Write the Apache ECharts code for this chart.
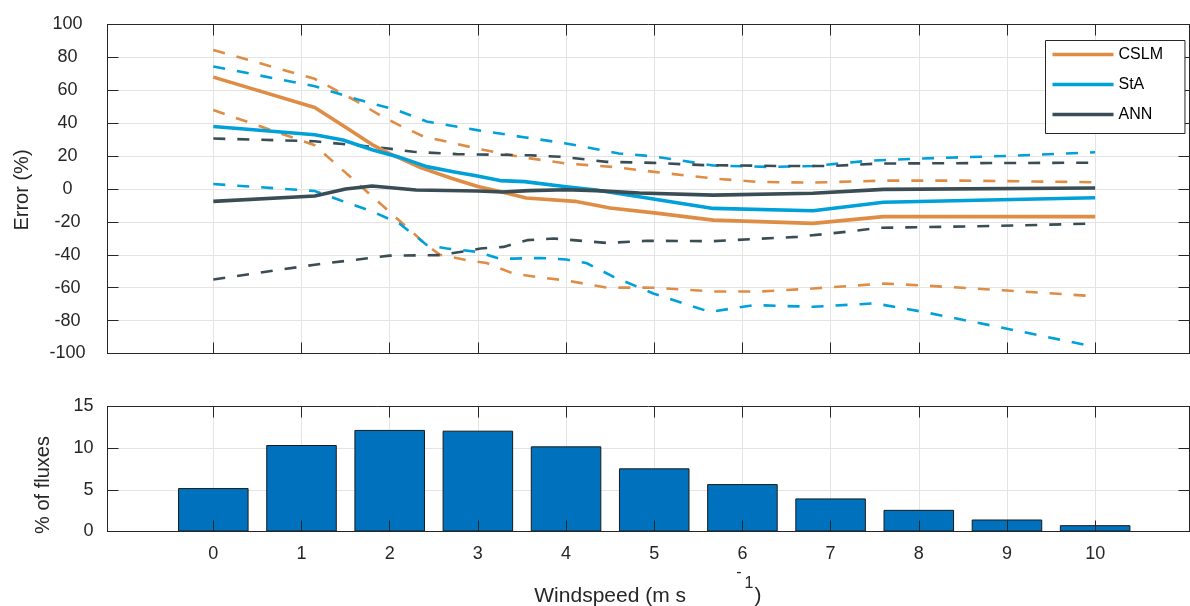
<!DOCTYPE html>
<html><head><meta charset="utf-8">
<script src="https://cdn.jsdelivr.net/npm/echarts@6/dist/echarts.min.js"></script>
<style>html,body{margin:0;padding:0;background:#fff}#c{width:1190px;height:606px}</style>
</head><body><div id="c"></div>
<script>
// ---- data ----
const windTicks = [0, 1, 2, 3, 4, 5, 6, 7, 8, 9, 10];
const fluxPct = [5.21, 10.38, 12.19, 12.1, 10.22, 7.58, 5.69, 3.97, 2.6, 1.44, 0.76];
const methodNames = ['CSLM', 'StA', 'ANN'];

const cslmMean = [[0,68],[1.15,49.5],[1.5,37.5],[1.8,27],[2.0,21.5],[2.35,13],[2.7,6.5],[3.0,1.5],[3.25,-1.5],[3.55,-5.5],[4.1,-7.5],[4.5,-11.5],[5.0,-14.5],[5.67,-18.9],[6.8,-20.9],[7.6,-16.8],[10,-16.8]];
const cslmUpper = [[0,84.5],[1.15,67],[1.62,53.5],[1.9,44.5],[2.1,39],[2.38,32],[2.99,24.6],[3.48,19.5],[4.0,15.5],[4.54,13.4],[5.0,10.4],[5.67,6.4],[6.17,4.3],[6.8,3.9],[7.6,5.1],[8.5,5.1],[10,4.1]];
const cslmLower = [[0,48],[1.15,26.6],[2.42,-34],[2.57,-40],[2.88,-43.3],[3.1,-45],[3.4,-51.4],[3.71,-53.8],[4.0,-55.6],[4.46,-59.9],[5.0,-60],[5.67,-62.3],[6.2,-62.3],[6.8,-60.5],[7.6,-57.5],[8.0,-58.5],[9.0,-61.7],[10,-65.2]];
const staMean = [[0,38],[1.15,33],[1.47,29.8],[1.81,23.7],[2.1,19.5],[2.42,13.6],[2.72,10.5],[2.98,8.1],[3.25,5.1],[3.53,4.5],[4.0,1.4],[4.34,-0.6],[4.83,-4.7],[5.67,-11.8],[6.8,-13.2],[7.6,-8.1],[10,-5.3]];
const staUpper = [[0,74.5],[1.15,62.5],[1.63,54.5],[2.08,48],[2.42,41],[2.99,35.8],[3.52,31.5],[4.0,27.7],[4.6,21.6],[5.0,19.8],[5.67,14.3],[6.3,13.4],[6.8,14],[7.44,17.2],[8.0,18.5],[9.0,20.1],[10,22.3]];
const staLower = [[0,3],[1.15,-1.2],[1.43,-6.7],[1.81,-13.8],[2.11,-21],[2.42,-34],[2.65,-36.2],[2.99,-38.2],[3.25,-42.5],[3.4,-42.3],[3.71,-41.9],[4.0,-42.9],[4.23,-45],[4.54,-53.4],[4.99,-63.5],[5.63,-74.7],[6.13,-70.6],[6.8,-71.6],[7.5,-69.5],[8.05,-74.7],[8.9,-83.8],[10,-96]];
const annMean = [[0,-7.5],[1.15,-4.3],[1.5,0],[1.8,1.8],[2.3,-0.6],[3.0,-1.2],[3.28,-1.8],[3.58,-1],[4.0,-0.5],[4.34,-1],[4.83,-2.4],[5.67,-3.7],[6.8,-2.6],[7.6,-0.2],[10,0.6]];
const annUpper = [[0,30.7],[1.15,29],[1.96,24.8],[2.27,22.6],[2.76,21.2],[3.59,20.5],[3.97,19.5],[4.46,16.5],[4.99,15.9],[5.56,14.5],[6.43,14],[7.0,14],[7.56,15.5],[10,16]];
const annLower = [[0,-55],[1.15,-46],[2.0,-40.5],[2.57,-40.2],[2.88,-37.6],[3.03,-36.2],[3.29,-35.2],[3.56,-31.1],[3.86,-30.1],[4.46,-32.8],[4.92,-31.5],[5.67,-31.7],[6.62,-29.1],[7.18,-26],[7.56,-23.6],[8.84,-22.5],[10,-21]];

// ---- style ----
const FONT = '"Liberation Sans", Arial, Helvetica, sans-serif';
const C_ORANGE = '#df8c45', C_BLUE = '#00a0d9', C_DARK = '#3a4d55';
const AX = '#262626', GRID = '#e4e4e4', TXT = '#262626';
const X_MIN = -1.2, X_MAX = 11.07;

function xAx(gridIndex, position, opts) {
  return Object.assign({
    type: 'value', gridIndex, position, min: X_MIN, max: X_MAX,
    axisLine: { show: true, onZero: false, lineStyle: { color: AX, width: 1 } },
    axisTick: { show: true, inside: true, length: 11, customValues: windTicks, lineStyle: { color: AX, width: 1 } },
    axisLabel: { show: false, customValues: windTicks },
    splitLine: { show: false, lineStyle: { color: GRID, width: 1 } }
  }, opts);
}
function yAx(gridIndex, position, min, max, interval, opts) {
  return Object.assign({
    type: 'value', gridIndex, position, min, max, interval,
    axisLine: { show: true, onZero: false, lineStyle: { color: AX, width: 1 } },
    axisTick: { show: true, inside: true, length: 11, lineStyle: { color: AX, width: 1 } },
    axisLabel: { show: false },
    splitLine: { show: false, lineStyle: { color: GRID, width: 1 } }
  }, opts);
}

function lineSeries(name, data, color, dashed, z) {
  return {
    type: 'line', name, data, xAxisIndex: 0, yAxisIndex: 0,
    showSymbol: false, symbol: 'none', smooth: false, z,
    itemStyle: { color },
    lineStyle: { color, width: dashed ? 2.6 : 3.6, type: dashed ? [12, 12] : 'solid', cap: 'butt', join: 'round' },
    emphasis: { disabled: true }, animation: false
  };
}

const series = [
  lineSeries('CSLM upper', cslmUpper, C_ORANGE, true, 3),
  lineSeries('CSLM lower', cslmLower, C_ORANGE, true, 3),
  lineSeries('StA upper', staUpper, C_BLUE, true, 3),
  lineSeries('StA lower', staLower, C_BLUE, true, 3),
  lineSeries('ANN upper', annUpper, C_DARK, true, 3),
  lineSeries('ANN lower', annLower, C_DARK, true, 3),
  lineSeries(methodNames[0], cslmMean, C_ORANGE, false, 4),
  lineSeries(methodNames[1], staMean, C_BLUE, false, 4),
  lineSeries(methodNames[2], annMean, C_DARK, false, 4),
  {
    type: 'bar', name: 'fluxes', xAxisIndex: 2, yAxisIndex: 2,
    data: windTicks.map((w, i) => [w, fluxPct[i]]),
    barWidth: '80%', z: 2,
    itemStyle: { color: '#0072bd', borderColor: '#1a1a1a', borderWidth: 1 },
    emphasis: { disabled: true }, animation: false
  }
];

const option = {
  animation: false,
  backgroundColor: '#fff',
  textStyle: { fontFamily: FONT },
  grid: [
    { left: 107.5, top: 24.5, width: 1082, height: 329, containLabel: false },
    { left: 107.5, top: 406.5, width: 1082, height: 125, containLabel: false }
  ],
  xAxis: [
    xAx(0, 'bottom', { splitLine: { show: true, lineStyle: { color: GRID, width: 1 } } }),
    xAx(0, 'top', {}),
    xAx(1, 'bottom', { z: 10, axisLabel: { show: true, customValues: windTicks, margin: 14, fontSize: 18, color: TXT, fontFamily: FONT } }),
    xAx(1, 'top', { splitLine: { show: true, lineStyle: { color: GRID, width: 1 } } })
  ],
  yAxis: [
    yAx(0, 'left', -100, 100, 20, {
      axisLabel: { show: true, fontSize: 18, color: TXT, fontFamily: FONT, align: 'center', margin: 40 },
      splitLine: { show: true, lineStyle: { color: GRID, width: 1 } }
    }),
    yAx(0, 'right', -100, 100, 20, {}),
    yAx(1, 'left', 0, 15, 5, {
      axisLabel: { show: true, fontSize: 18, color: TXT, fontFamily: FONT, align: 'right', margin: 14 },
      splitLine: { show: true, lineStyle: { color: GRID, width: 1 } }
    }),
    yAx(1, 'right', 0, 15, 5, {})
  ],
  legend: {
    data: methodNames, orient: 'vertical', left: 1045.5, top: 40.5,
    padding: [6, 22, 11, 7], itemWidth: 61, itemHeight: 3.5, itemGap: 14, icon: 'rect',
    backgroundColor: '#fff', borderColor: '#262626', borderWidth: 1, borderRadius: 0,
    textStyle: { fontSize: 16, fontFamily: FONT, color: '#000', lineHeight: 16 },
    selectedMode: false, z: 20
  },
  graphic: [
    { type: 'text', x: 22, y: 190, rotation: Math.PI / 2, style: { text: 'Error (%)', font: '20px ' + FONT, fill: TXT, textAlign: 'center', textVerticalAlign: 'middle' } },
    { type: 'text', x: 43, y: 485, rotation: Math.PI / 2, style: { text: '% of fluxes', font: '20px ' + FONT, fill: TXT, textAlign: 'center', textVerticalAlign: 'middle' } },
    { type: 'text', x: 686, y: 596, style: { text: 'Windspeed (m s', font: '21px ' + FONT, fill: TXT, textAlign: 'right', textVerticalAlign: 'middle' } },
    { type: 'text', x: 739, y: 573, style: { text: '-', font: '16px ' + FONT, fill: TXT, textAlign: 'center', textVerticalAlign: 'middle' } },
    { type: 'text', x: 749, y: 584, style: { text: '1', font: '16px ' + FONT, fill: TXT, textAlign: 'center', textVerticalAlign: 'middle' } },
    { type: 'text', x: 758, y: 596, style: { text: ')', font: '21px ' + FONT, fill: TXT, textAlign: 'center', textVerticalAlign: 'middle' } }
  ],
  series
};
const chart = echarts.init(document.getElementById('c'), null, { renderer: 'canvas' });
chart.setOption(option);
</script></body></html>
